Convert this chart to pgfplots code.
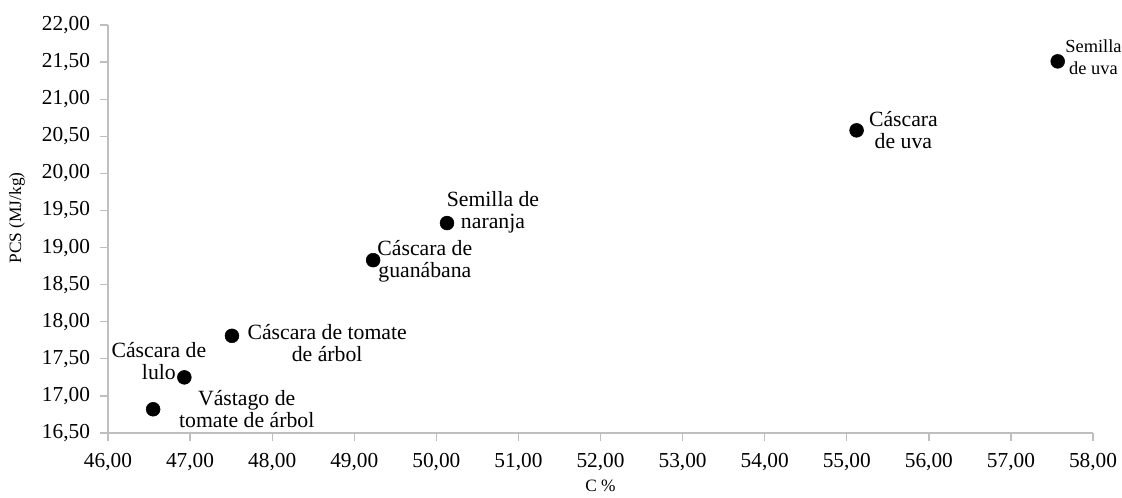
\documentclass[border=0pt]{standalone}
\usepackage{fontspec}
\setmainfont{Liberation Serif}
\usepackage{pgfplots}
\pgfplotsset{compat=1.18}
\definecolor{axisgray}{HTML}{BFBFBF}
\tikzset{lbl/.style={font=\fontsize{16.3}{16.5}\selectfont, align=center,
    inner sep=0pt, anchor=center}}

\begin{document}
\begin{tikzpicture}
\begin{axis}[
  at={(0,0)}, anchor=south west,
  scale only axis,
  width=738.75pt, height=306pt,
  xmin=46, xmax=58, ymin=16.5, ymax=22,
  xtick distance=1, ytick distance=0.5,
  axis lines*=left,
  axis line style={axisgray, line width=1pt, -},
  every tick/.style={axisgray, line width=1pt},
  major tick length=6pt,
  tick align=outside,
  clip=false,
  /pgf/number format/.cd, fixed, fixed zerofill, precision=2, use comma,
    assume math mode=true, /pgfplots/.cd,
  tick label style={font=\fontsize{16}{18}\selectfont},
  xticklabel style={yshift=-6pt},
  yticklabel style={xshift=-4pt},
  xlabel={C \%},
  ylabel={PCS (MJ/kg)},
  xlabel style={font=\fontsize{13}{15}\selectfont, inner sep=0pt,
    at={(axis description cs:0.5,-0.115)}, anchor=north},
  ylabel style={font=\fontsize{13}{15}\selectfont, inner sep=0pt,
    at={(axis description cs:-0.0924,0.527)}, anchor=center},
]
\addplot[only marks, mark=*, mark size=5.2pt, black] coordinates {
  (46.55,16.82) (46.93,17.25) (47.51,17.81) (49.23,18.83)
  (50.13,19.33) (55.12,20.58) (57.57,21.51)
};
\node[lbl] at (axis cs:47.69,16.82) {Vástago de\\tomate de árbol};
\node[lbl] at (axis cs:46.62,17.47) {Cáscara de\\lulo};
\node[lbl] at (axis cs:48.67,17.71) {Cáscara de tomate\\de árbol};
\node[lbl] at (axis cs:49.86,18.82) {Cáscara de\\guanábana};
\node[lbl] at (axis cs:50.69,19.48) {Semilla de\\naranja};
\node[lbl] at (axis cs:55.69,20.58) {Cáscara\\de uva};
\node[lbl, anchor=west, font=\fontsize{13.8}{16.5}\selectfont]
  at (axis cs:57.66,21.57) {Semilla\\de uva};
\end{axis}
\pgfresetboundingbox
\useasboundingbox (-81pt,-48pt) rectangle (760.5pt,324.75pt);
\end{tikzpicture}
\end{document}
